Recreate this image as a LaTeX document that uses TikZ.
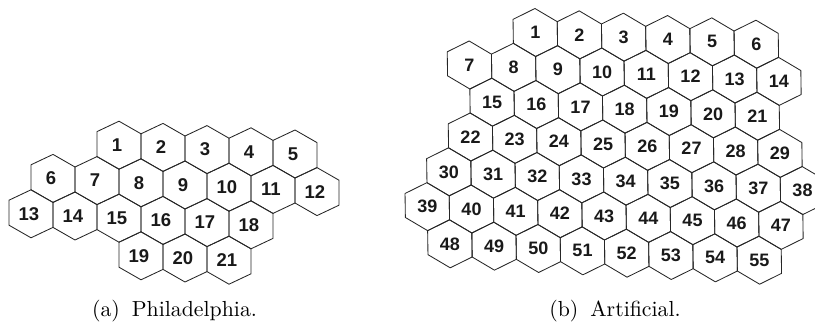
\documentclass[tikz,border=0pt]{standalone}
\usepackage{fontspec}
\newfontfamily\numfont{Liberation Sans}
\tikzset{
  hexline/.style={draw=black!85, line width=0.85pt, line join=round},
  hexlabel/.style={font=\numfont\bfseries\fontsize{\fs}{\fs}\selectfont, text=black!90, inner sep=0pt},
  caplabel/.style={scale=2.18, anchor=base, inner sep=0pt}
}
\newcommand\hexcell[4]{%
  \draw[hexline,shift={(#1,#2)}] (0,-\ha) -- (0.5,-\sa) -- (0.5,\sa) -- (0,\ha) -- (-0.5,\sa) -- (-0.5,-\sa) -- cycle;
  \node[hexlabel,xshift=\lx] (#4#3) at (#1,#2) {#3};
}
\newcommand\hexrow[5]{%
  \foreach \n in {#3,...,#4}{%
    \pgfmathsetmacro\cc{#2+\n-#3}%
    \hexcell{\cc}{#1}{\n}{#5}%
  }%
}
\begin{document}
\begin{tikzpicture}[x=1pt,y=1pt]
\useasboundingbox (0,0) rectangle (815,322);
\clip (0,0) rectangle (815,322);
% panel (a)
\begin{scope}[shift={(119pt,176.8pt)}, x={(44pt,-2.2pt)}, y={(0pt,-36.5pt)}]
  \def\ha{0.6575}\def\sa{0.3425}\def\lx{-2pt}\def\fs{18.5}
  \hexrow{0}{0}{1}{5}{a}
  \hexrow{1}{-1.5}{6}{12}{a}
  \hexrow{2}{-2}{13}{18}{a}
  \hexrow{3}{0.5}{19}{21}{a}
\end{scope}
% panel (b)
\begin{scope}[shift={(535.3pt,289.5pt)}, x={(44.2pt,-2.34pt)}, y={(0.5pt,-36pt)}]
  \def\ha{0.6667}\def\sa{0.3333}\def\lx{0pt}\def\fs{18}
  \hexrow{0}{0}{1}{6}{b}
  \hexrow{1}{-1.5}{7}{14}{b}
  \hexrow{2}{-1}{15}{21}{b}
  \hexrow{3}{-1.5}{22}{29}{b}
  \hexrow{4}{-2}{30}{38}{b}
  \hexrow{5}{-2.5}{39}{47}{b}
  \hexrow{6}{-2}{48}{55}{b}
\end{scope}
\node[caplabel] (capa) at (174.5,6) {(a)\hspace{5.5pt}Philadelphia.};
\node[caplabel] (capb) at (615,6) {(b)\hspace{5.5pt}Artificial.};
\end{tikzpicture}
\end{document}
